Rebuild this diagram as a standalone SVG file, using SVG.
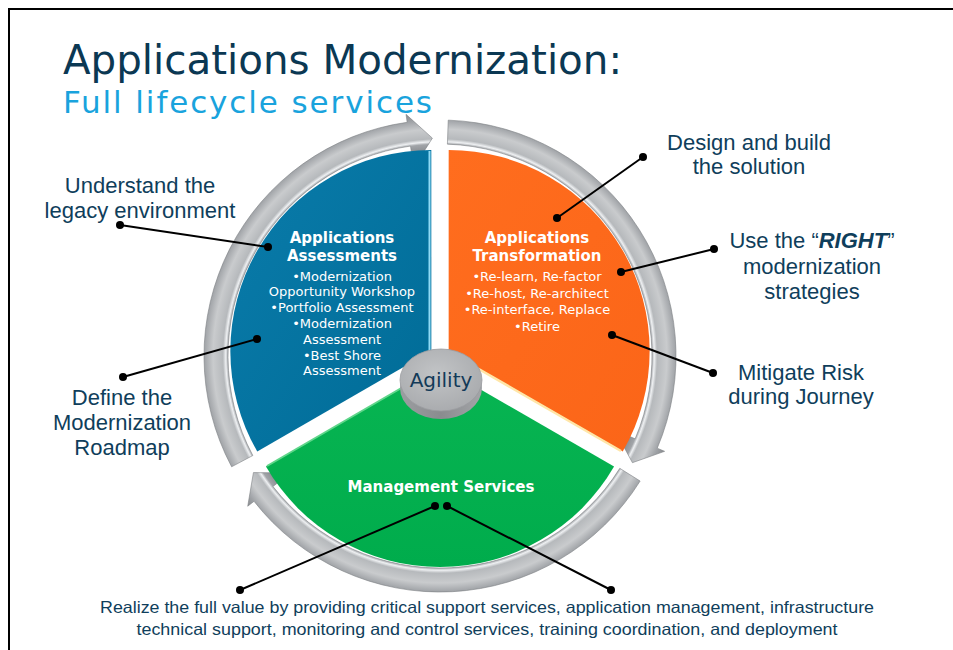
<svg xmlns="http://www.w3.org/2000/svg" width="953" height="650" viewBox="0 0 953 650">
<defs>
<style>
.title{font-family:"DejaVu Sans","Liberation Sans",sans-serif;fill:#0b3853}
.sub{font-family:"DejaVu Sans","Liberation Sans",sans-serif;fill:#19a3dd}
.lbl{font-family:"Liberation Sans",Arial,sans-serif;font-size:22px;fill:#0f3e5b;text-anchor:middle}
.bot{font-family:"Liberation Sans",Arial,sans-serif;font-size:16.5px;fill:#0f3e5b;text-anchor:middle}
.hd{font-family:"DejaVu Sans",sans-serif;font-size:15px;font-weight:bold;fill:#ffffff;text-anchor:middle}
.it{font-family:"DejaVu Sans",sans-serif;font-size:13px;fill:#ffffff;text-anchor:middle}
.ring{fill:url(#ringGrad);stroke:#7e8185;stroke-width:0.6}
.con{stroke:#000;stroke-width:2;fill:none}
.dot{fill:#000}
</style>
<radialGradient id="ringGrad" gradientUnits="userSpaceOnUse" cx="440" cy="356" r="244">
<stop offset="0.84" stop-color="#8a8d91"/>
<stop offset="0.868" stop-color="#a2a5a9"/>
<stop offset="0.878" stop-color="#eef0f2"/>
<stop offset="0.89" stop-color="#b6b9bc"/>
<stop offset="0.93" stop-color="#c9cbcd"/>
<stop offset="0.967" stop-color="#a0a3a7"/>
<stop offset="1" stop-color="#878a8e"/>
</radialGradient>
<linearGradient id="blueGrad" x1="0" y1="0" x2="1" y2="1">
<stop offset="0" stop-color="#0a7cab"/>
<stop offset="1" stop-color="#006b96"/>
</linearGradient>
<linearGradient id="orangeGrad" x1="0" y1="0" x2="1" y2="1">
<stop offset="0" stop-color="#ff6d1e"/>
<stop offset="1" stop-color="#fb6518"/>
</linearGradient>
<linearGradient id="greenGrad" x1="0" y1="0" x2="0" y2="1">
<stop offset="0" stop-color="#08b552"/>
<stop offset="1" stop-color="#00ac4c"/>
</linearGradient>
<radialGradient id="diskTop" cx="0.45" cy="0.4" r="0.7">
<stop offset="0" stop-color="#c2c4c6"/>
<stop offset="1" stop-color="#a6a8ab"/>
</radialGradient>
<linearGradient id="diskSide" x1="0" y1="0" x2="1" y2="0">
<stop offset="0" stop-color="#9c9ea1"/>
<stop offset="0.5" stop-color="#8a8c8f"/>
<stop offset="1" stop-color="#a3a5a8"/>
</linearGradient>
</defs>

<rect x="0" y="0" width="953" height="650" fill="#ffffff"/>
<path d="M9 650 V9 H953" fill="none" stroke="#000" stroke-width="2"/>

<g id="title">
<text class="title" x="63" y="74" font-size="40" textLength="559" lengthAdjust="spacingAndGlyphs">Applications Modernization:</text>
<text class="sub" x="63" y="113" font-size="31" textLength="369" lengthAdjust="spacing">Full lifecycle services</text>
</g>

<g id="ring">
<path id="ring-assess" class="ring" d="M231.62 466.79 A236 236 0 0 1 407.16 122.30 L406.04 114.37 L432.39 138.13 L413.56 167.85 L410.50 146.06 A212 212 0 0 0 252.81 455.53 Z"/>
<path id="ring-transform" class="ring" d="M448.24 120.14 A236 236 0 0 1 657.24 448.21 L664.60 451.34 L632.42 462.66 L614.90 430.24 L635.15 438.83 A212 212 0 0 0 447.40 144.13 Z"/>
<path id="ring-manage" class="ring" d="M640.14 481.06 A236 236 0 0 1 254.03 501.30 L247.73 506.22 L253.43 472.58 L290.28 472.98 L272.94 486.52 A212 212 0 0 0 619.79 468.34 Z"/>
</g>

<g id="node-assessments">
<path d="M431.34 351 L431.34 150 A201 201 0 0 0 257.27 451.5 Z" fill="url(#blueGrad)"/>
<line x1="429.5" y1="151" x2="429.5" y2="352" stroke="#8fdaf5" stroke-width="2"/>
<text class="hd" x="342" y="243">Applications</text>
<text class="hd" x="342" y="261">Assessments</text>
<text class="it" x="342" y="281">•Modernization</text>
<text class="it" x="342" y="296">Opportunity Workshop</text>
<text class="it" x="342" y="312">•Portfolio Assessment</text>
<text class="it" x="342" y="328">•Modernization</text>
<text class="it" x="342" y="344">Assessment</text>
<text class="it" x="342" y="360">•Best Shore</text>
<text class="it" x="342" y="375">Assessment</text>
</g>

<g id="node-transformation">
<path d="M448.66 351 L448.66 150 A201 201 0 0 1 622.73 451.5 Z" fill="url(#orangeGrad)"/>
<line x1="470" y1="364" x2="621" y2="451" stroke="#ffe6a8" stroke-width="2.5"/>
<text class="hd" x="537" y="243">Applications</text>
<text class="hd" x="537" y="261">Transformation</text>
<text class="it" x="537" y="281">•Re-learn, Re-factor</text>
<text class="it" x="537" y="298">•Re-host, Re-architect</text>
<text class="it" x="537" y="314">•Re-interface, Replace</text>
<text class="it" x="537" y="331">•Retire</text>
</g>

<g id="node-management">
<path d="M440 366 L614.07 466.5 A201 201 0 0 1 265.93 466.5 Z" fill="url(#greenGrad)"/>
<line x1="267" y1="466" x2="410" y2="383" stroke="#5fd68a" stroke-width="2"/>
<text class="hd" x="441" y="492" font-size="14">Management Services</text>
</g>

<g id="node-agility">
<ellipse cx="441" cy="388" rx="41" ry="31" fill="url(#diskSide)"/>
<ellipse cx="441" cy="380" rx="41" ry="31" fill="url(#diskTop)" stroke="#9a9c9f" stroke-width="0.8"/>
<text x="441" y="387" font-family="DejaVu Sans, sans-serif" font-size="20" fill="#123a58" text-anchor="middle">Agility</text>
</g>

<g id="label-understand">
<text class="lbl" x="140" y="193">Understand the</text>
<text class="lbl" x="140" y="218">legacy environment</text>
</g>
<g id="label-define">
<text class="lbl" x="122" y="405">Define the</text>
<text class="lbl" x="122" y="430">Modernization</text>
<text class="lbl" x="122" y="455">Roadmap</text>
</g>
<g id="label-design">
<text class="lbl" x="749" y="150">Design and build</text>
<text class="lbl" x="749" y="174">the solution</text>
</g>
<g id="label-right">
<text class="lbl" x="812" y="248">Use the “<tspan font-weight="bold" font-style="italic">RIGHT</tspan>”</text>
<text class="lbl" x="812" y="274">modernization</text>
<text class="lbl" x="812" y="299">strategies</text>
</g>
<g id="label-risk">
<text class="lbl" x="801" y="380">Mitigate Risk</text>
<text class="lbl" x="801" y="404">during Journey</text>
</g>
<g id="label-value">
<text class="bot" x="487" y="613" textLength="774" lengthAdjust="spacingAndGlyphs">Realize the full value by providing critical support services, application management, infrastructure</text>
<text class="bot" x="487" y="635" textLength="701" lengthAdjust="spacingAndGlyphs">technical support, monitoring and control services, training coordination, and deployment</text>
</g>

<g id="connectors">
<line class="con" x1="120" y1="225" x2="268" y2="247"/>
<circle class="dot" cx="120" cy="225" r="4"/><circle class="dot" cx="268" cy="247" r="4"/>
<line class="con" x1="123" y1="377" x2="257" y2="339"/>
<circle class="dot" cx="123" cy="377" r="4"/><circle class="dot" cx="257" cy="339" r="4"/>
<line class="con" x1="643" y1="157" x2="557" y2="218"/>
<circle class="dot" cx="643" cy="157" r="4"/><circle class="dot" cx="557" cy="218" r="4"/>
<line class="con" x1="714" y1="249" x2="621" y2="272"/>
<circle class="dot" cx="714" cy="249" r="4"/><circle class="dot" cx="621" cy="272" r="4"/>
<line class="con" x1="713" y1="373" x2="612" y2="335"/>
<circle class="dot" cx="713" cy="373" r="4"/><circle class="dot" cx="612" cy="335" r="4"/>
<line class="con" x1="435" y1="506" x2="240" y2="590"/>
<circle class="dot" cx="435" cy="506" r="4"/><circle class="dot" cx="240" cy="590" r="4"/>
<line class="con" x1="447" y1="506" x2="611" y2="590"/>
<circle class="dot" cx="447" cy="506" r="4"/><circle class="dot" cx="611" cy="590" r="4"/>
</g>
</svg>
